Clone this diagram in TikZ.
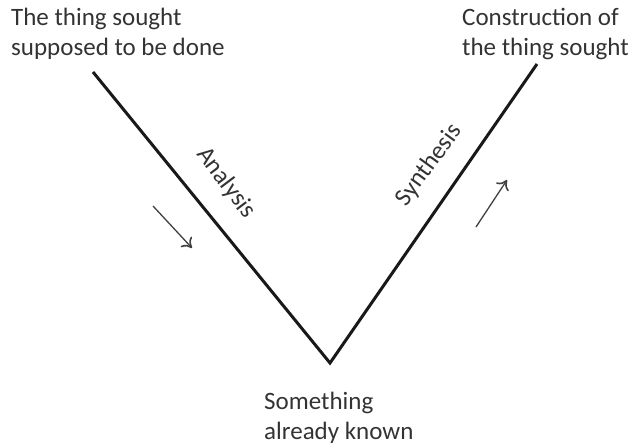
\documentclass[tikz,border=0pt]{standalone}
\usepackage{fontspec}
\setmainfont{Carlito}
\usetikzlibrary{arrows.meta}
\begin{document}
\begin{tikzpicture}[x=1pt,y=-1pt,
  lbl/.style={font=\fontsize{25}{30}\selectfont, text=black!80, inner sep=0pt, align=left},
  vline/.style={line width=3pt, black!90, line cap=butt},
  dirarrow/.style={line width=1.3pt, black!75, -{To[length=9pt,width=15pt,line width=1.6pt]}}]
\useasboundingbox (0,0) rectangle (634,446);
\coordinate (lt) at (93,72);
\coordinate (vx) at (330,363);
\coordinate (rt) at (537,64);
\draw[vline, line join=miter] (lt) -- (vx) -- (rt);
\node[lbl, anchor=north west] (sought) at (11,8) {The thing sought\\supposed to be done};
\node[lbl, anchor=north west] (constr) at (462,8) {Construction of\\the thing sought};
\node[lbl, anchor=north west] (known) at (264,392) {Something\\already known};
\node[lbl, rotate=-53] (analysis) at (226,183) {Analysis};
\node[lbl, rotate=54] (synthesis) at (429,165) {Synthesis};
\coordinate (a1) at (153,206);
\coordinate (a2) at (192,248);
\coordinate (b1) at (476,227);
\coordinate (b2) at (507,180);
\draw[dirarrow] (a1) -- (a2);
\draw[dirarrow] (b1) -- (b2);
\end{tikzpicture}
\end{document}
